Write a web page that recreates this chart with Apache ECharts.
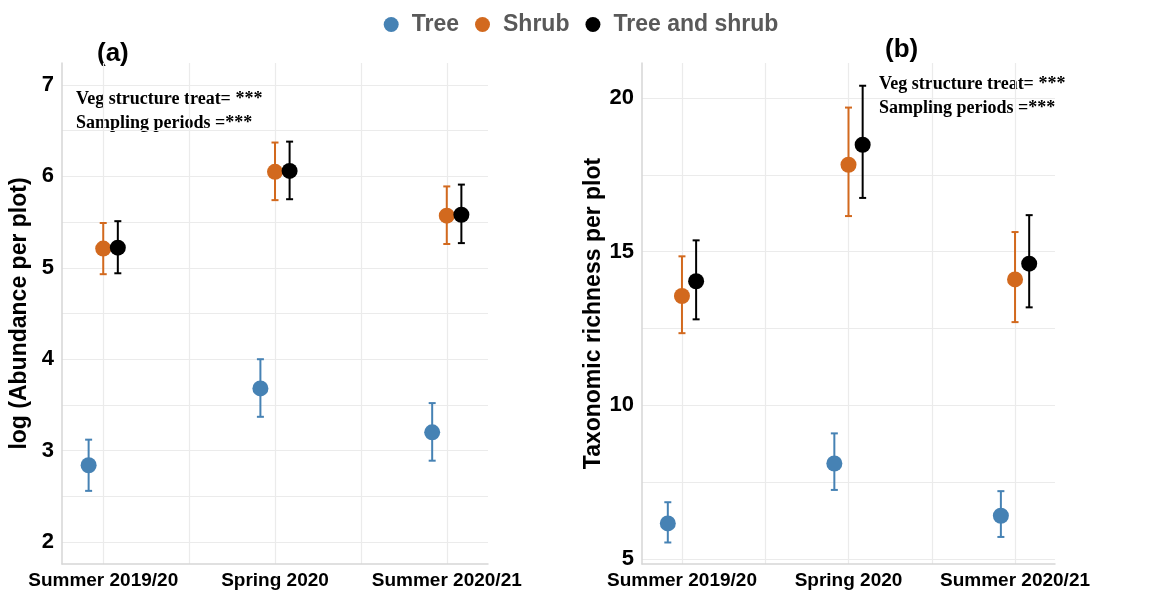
<!DOCTYPE html>
<html>
<head>
<meta charset="utf-8">
<script src="https://cdn.jsdelivr.net/npm/echarts@6/dist/echarts.min.js"></script>
<style>
  html, body { margin: 0; padding: 0; background: #ffffff; }
  #chart { width: 1162px; height: 591px; }
</style>
</head>
<body>
<div id="chart"></div>
<script>
// Sampling periods on the x axis
const categories = ['Summer 2019/20', 'Spring 2020', 'Summer 2020/21'];
// Vegetation structure treatments
const groups = ['Tree', 'Shrub', 'Tree and shrub'];

// (a) log abundance per plot: mean, lower and upper error bar
const abundanceTreeMean  = [2.84, 3.68, 3.20];
const abundanceTreeLow   = [2.56, 3.37, 2.89];
const abundanceTreeHigh  = [3.12, 4.00, 3.52];
const abundanceShrubMean = [5.21, 6.05, 5.57];
const abundanceShrubLow  = [4.93, 5.74, 5.26];
const abundanceShrubHigh = [5.49, 6.37, 5.89];
const abundanceBothMean  = [5.22, 6.06, 5.58];
const abundanceBothLow   = [4.94, 5.75, 5.27];
const abundanceBothHigh  = [5.51, 6.38, 5.91];

// (b) taxonomic richness per plot: mean, lower and upper error bar
const richnessTreeMean  = [6.16, 8.11, 6.41];
const richnessTreeLow   = [5.54, 7.25, 5.72];
const richnessTreeHigh  = [6.85, 9.09, 7.21];
const richnessShrubMean = [13.56, 17.83, 14.10];
const richnessShrubLow  = [12.35, 16.16, 12.71];
const richnessShrubHigh = [14.85, 19.69, 15.64];
const richnessBothMean  = [14.04, 18.48, 14.61];
const richnessBothLow   = [12.80, 16.75, 13.19];
const richnessBothHigh  = [15.37, 20.40, 16.19];

// Axis tick labels
const abundanceTicks = [2, 3, 4, 5, 6, 7];
const richnessTicks = [5, 10, 15, 20];

const colors = ['#4682B4', '#D2691E', '#000000'];
const dodge = [-0.085, 0, 0.085];

const panels = [
  {
    mean: [abundanceTreeMean, abundanceShrubMean, abundanceBothMean],
    low:  [abundanceTreeLow, abundanceShrubLow, abundanceBothLow],
    high: [abundanceTreeHigh, abundanceShrubHigh, abundanceBothHigh]
  },
  {
    mean: [richnessTreeMean, richnessShrubMean, richnessBothMean],
    low:  [richnessTreeLow, richnessShrubLow, richnessBothLow],
    high: [richnessTreeHigh, richnessShrubHigh, richnessBothHigh]
  }
];

// Major ticks plus the halfway gridlines between them
function halfSteps(ticks, step) {
  const out = [];
  for (let i = 0; i < ticks.length; i++) {
    out.push(ticks[i]);
    if (i < ticks.length - 1) out.push(ticks[i] + step / 2);
  }
  return out;
}

const gridLineStyle = { color: '#ebebeb', width: 1.2 };
const axisLineStyle = { color: '#d6d6d6', width: 1.5 };
const labelFont = { fontFamily: 'Liberation Sans, Arial, sans-serif', fontWeight: 'bold', color: '#000' };

function xAxisFor(gridIndex) {
  return {
    type: 'value', gridIndex: gridIndex, min: 0.76, max: 3.24,
    axisLine: { show: true, lineStyle: axisLineStyle },
    axisTick: { show: false, customValues: [1, 1.5, 2, 2.5, 3] },
    axisLabel: Object.assign({
      customValues: [1, 2, 3], fontSize: 19, margin: 7,
      formatter: v => categories[Math.round(v) - 1]
    }, labelFont),
    splitLine: { show: true, lineStyle: gridLineStyle }
  };
}

function yAxisFor(gridIndex, min, max, ticks, step, name, gap) {
  return {
    type: 'value', gridIndex: gridIndex, min: min, max: max,
    name: name, nameLocation: 'middle', nameGap: gap, nameRotate: 90,
    nameTextStyle: { fontFamily: 'Liberation Sans, Arial, sans-serif', fontWeight: 'bold', fontSize: 23, color: '#000' },
    axisLine: { show: true, lineStyle: axisLineStyle },
    axisTick: { show: false, customValues: halfSteps(ticks, step) },
    axisLabel: Object.assign({ customValues: ticks, fontSize: 22, margin: 8 }, labelFont),
    splitLine: { show: true, lineStyle: gridLineStyle }
  };
}

// Vertical error bar with small end caps
function errorBarRender(params, api) {
  const x = api.value(0);
  const top = api.coord([x, api.value(2)]);
  const bottom = api.coord([x, api.value(1)]);
  const cap = 3.5;
  const style = { stroke: api.visual('color'), lineWidth: 2 };
  return {
    type: 'group',
    children: [
      { type: 'line', shape: { x1: top[0], y1: top[1], x2: bottom[0], y2: bottom[1] }, style: style },
      { type: 'line', shape: { x1: top[0] - cap, y1: top[1], x2: top[0] + cap, y2: top[1] }, style: style },
      { type: 'line', shape: { x1: bottom[0] - cap, y1: bottom[1], x2: bottom[0] + cap, y2: bottom[1] }, style: style }
    ]
  };
}

const series = [];
panels.forEach((p, pi) => {
  groups.forEach((g, gi) => {
    const errData = categories.map((c, ci) => [ci + 1 + dodge[gi], p.low[gi][ci], p.high[gi][ci]]);
    series.push({
      type: 'custom', name: g + ' error', xAxisIndex: pi, yAxisIndex: pi,
      renderItem: errorBarRender, data: errData, z: 2, silent: true,
      itemStyle: { color: colors[gi] },
      encode: { x: 0, y: [1, 2] }
    });
  });
  groups.forEach((g, gi) => {
    const ptData = categories.map((c, ci) => [ci + 1 + dodge[gi], p.mean[gi][ci]]);
    series.push({
      type: 'scatter', name: g, xAxisIndex: pi, yAxisIndex: pi,
      data: ptData, symbol: 'circle', symbolSize: 16, z: 3,
      itemStyle: { color: colors[gi], opacity: 1 }
    });
  });
});

const annotationStyle = {
  fontFamily: 'Liberation Serif, Times New Roman, serif', fontWeight: 'bold',
  fontSize: 18, lineHeight: 24, fill: '#000'
};
const panelLabelStyle = {
  fontFamily: 'Liberation Sans, Arial, sans-serif', fontWeight: 'bold',
  fontSize: 26, fill: '#000'
};

const option = {
  backgroundColor: '#ffffff',
  animation: false,
  legend: {
    data: groups.map(g => ({ name: g, icon: 'circle' })),
    left: 'center', top: 8,
    itemWidth: 15, itemHeight: 15, itemGap: 16,
    textStyle: { fontFamily: 'Liberation Sans, Arial, sans-serif', fontWeight: 'bold', fontSize: 23, color: '#595959', padding: [0, 0, 0, 8] }
  },
  grid: [
    { left: 62, right: 674, top: 63, bottom: 27 },
    { left: 642, right: 107, top: 63, bottom: 27 }
  ],
  xAxis: [xAxisFor(0), xAxisFor(1)],
  yAxis: [
    yAxisFor(0, 1.76, 7.24, abundanceTicks, 1, 'log (Abundance per plot)', 31),
    yAxisFor(1, 4.84, 21.14, richnessTicks, 5, 'Taxonomic richness per plot', 35)
  ],
  series: series,
  graphic: [
    { type: 'text', left: 97, top: 41, style: Object.assign({ text: '(a)' }, panelLabelStyle) },
    { type: 'text', left: 885, top: 37, style: Object.assign({ text: '(b)' }, panelLabelStyle) },
    { type: 'text', left: 76, top: 87, style: Object.assign({ text: 'Veg structure treat= ***\nSampling periods =***' }, annotationStyle) },
    { type: 'text', left: 879, top: 72, style: Object.assign({ text: 'Veg structure treat= ***\nSampling periods =***' }, annotationStyle) }
  ]
};

const chart = echarts.init(document.getElementById('chart'), null, { renderer: 'canvas' });
chart.setOption(option);
</script>
</body>
</html>
